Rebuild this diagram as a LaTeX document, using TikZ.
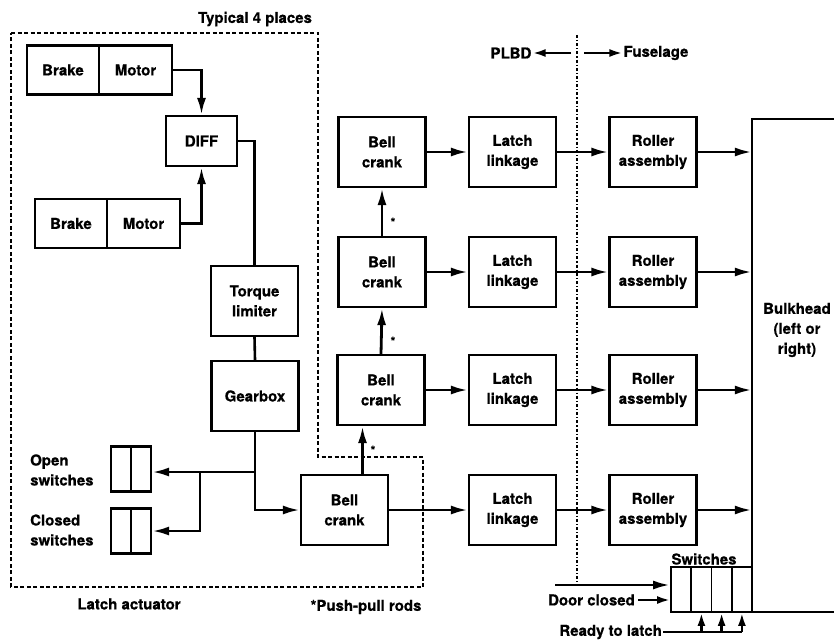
\documentclass[tikz,border=0pt]{standalone}
\usepackage{fontspec}
\setmainfont{TeX Gyre Heros}[BoldFeatures={FakeBold=0.6}]
\usetikzlibrary{arrows.meta}
\begin{document}
\begin{tikzpicture}[x=1pt,y=-1pt,
		every node/.style={font=\fontsize{15}{20}\selectfont\bfseries, align=center, inner sep=1pt},
		box/.style={draw, line width=2.2pt, minimum width=87pt, minimum height=70pt},
		half/.style={draw, line width=2.2pt, minimum width=72.5pt, minimum height=49pt},
		cell/.style={draw, line width=2.2pt, minimum width=20pt, minimum height=45pt},
		swcell/.style={draw, line width=1.8pt, minimum width=20.25pt, minimum height=45pt},
		link/.style={line width=2.6pt},
		arr/.style={line width=2.8pt, -{Latex[length=17pt,width=9pt]}},
		arrs/.style={line width=2.4pt, -{Latex[length=13pt,width=8pt]}},
		actbox/.style={line width=2pt, dash pattern=on 4pt off 2.5pt},
		divline/.style={line width=1.4pt, dash pattern=on 3pt off 2pt on 1.2pt off 2pt}]
	\useasboundingbox (0,0) rectangle (834,642);
	\node (typ) at (255,19) {Typical 4 places};
	\node[half] (b1) at (63,70) {Brake};
	\node[half] (m1) at (135.5,70) {Motor};
	\node[half] (b2) at (71,223.5) {Brake};
	\node[half] (m2) at (143.5,223.5) {Motor};
	\node[draw, line width=2.2pt, minimum width=71pt, minimum height=50pt] (d) at (201.5,141) {DIFF};
	\node[box] (tl) at (254.5,301) {Torque\\limiter};
	\node[box] (gb) at (255,396) {Gearbox};
	\node[cell] (os1) at (121,469) {};
	\node[cell] (os2) at (141,469) {};
	\node[cell] (cs1) at (121,531) {};
	\node[cell] (cs2) at (141,531) {};
	\node[anchor=west, align=left] (ol) at (29,470) {Open\\switches};
	\node[anchor=west, align=left] (cl) at (29,530) {Closed\\switches};
	\node[box] (bc1) at (382,152) {Bell\\crank};
	\node[box] (bc2) at (382,272) {Bell\\crank};
	\node[box] (bc3) at (381,390) {Bell\\crank};
	\node[box] (bc4) at (344.5,510) {Bell\\crank};
	\node[box] (ll1) at (512.5,152) {Latch\\linkage};
	\node[box] (ll2) at (512.5,272) {Latch\\linkage};
	\node[box] (ll3) at (512.5,390) {Latch\\linkage};
	\node[box] (ll4) at (512.5,510) {Latch\\linkage};
	\node[box] (ra1) at (653,152) {Roller\\assembly};
	\node[box] (ra2) at (653,272) {Roller\\assembly};
	\node[box] (ra3) at (653,390) {Roller\\assembly};
	\node[box] (ra4) at (653,510) {Roller\\assembly};
	\node[minimum width=82pt, minimum height=493pt, inner sep=0pt] (bh) at (793,365.5) {};
	\node (bht) at (797,330) {Bulkhead\\(left or\\right)};
	\node[swcell] (sw1) at (681.1,589.5) {};
	\node[swcell] (sw2) at (701.4,589.5) {};
	\node[swcell] (sw3) at (721.6,589.5) {};
	\node[swcell] (sw4) at (741.9,589.5) {};
	\node (swl) at (704,559) {Switches};
	\node (plbd) at (511,53) {PLBD};
	\node (fus) at (656,53) {Fuselage};
	\node[anchor=east] (dc) at (636,600) {Door closed};
	\node[anchor=east] (rl) at (663,632) {Ready to latch};
	\node (act) at (129,604) {Latch actuator};
	\node (ppr) at (366,607) {*Push-pull rods};
	\node[font=\fontsize{12}{12}\selectfont\bfseries] (st1) at (393,222) {*};
	\node[font=\fontsize{12}{12}\selectfont\bfseries] (st2) at (393,341) {*};
	\node[font=\fontsize{12}{12}\selectfont\bfseries] (st3) at (373,450) {*};
	\coordinate (j1) at (255,472);
	\coordinate (j2) at (200,472);
	\coordinate (pl) at (571,53);
	\coordinate (fu) at (584,53);
	\coordinate (dcin) at (555,585);
	\draw[actbox] (11,33) -- (318,33) -- (318,457) -- (423,457) -- (423,587) -- (11,587) -- cycle;
	\draw[divline] (577,35) -- (577,585);
	\draw[line width=2.2pt] (bh.north east) -- (bh.north west) -- (bh.south west) -- (bh.south east);
	\draw[arr] (m1.east) -| (d.north);
	\draw[arr] (m2.east) -| (d.south);
	\draw[link] (d.east) -| (tl.north);
	\draw[link] (tl.south) -- (gb.north);
	\draw[link] (gb.south) -- (j1);
	\draw[arr] (j1) -- (j1 -| os2.east);
	\draw[arr] (j1) |- (bc4.west);
	\draw[arr] (j2) |- (cs2.east);
	\draw[arr] ([xshift=18pt]bc4.north) -- ([xshift=18pt]bc4.north |- bc3.south);
	\draw[arr] (bc3.north) -- (bc2.south);
	\draw[arr] (bc2.north) -- (bc1.south);
	\foreach \i in {1,2,3,4} {
		\draw[arr] (bc\i.east) -- (ll\i.west);
		\draw[arr] (ll\i.east) -- (ra\i.west);
		\draw[arr] (ra\i.east) -- (ra\i.east -| bh.west);
	}
	\draw[arrs] (pl) -- (plbd);
	\draw[arrs] (fu) -- (fus);
	\draw[arr] (dcin) -- (dcin -| sw1.west);
	\draw[arrs] ([xshift=2pt]dc.east) -- (dc.east -| sw1.west);
	\draw[link] (rl.east) -- (rl.east -| sw4.south);
	\foreach \s in {sw2,sw3,sw4}
		\draw[arrs] (\s.south |- rl.east) -- (\s.south);
\end{tikzpicture}
\end{document}
